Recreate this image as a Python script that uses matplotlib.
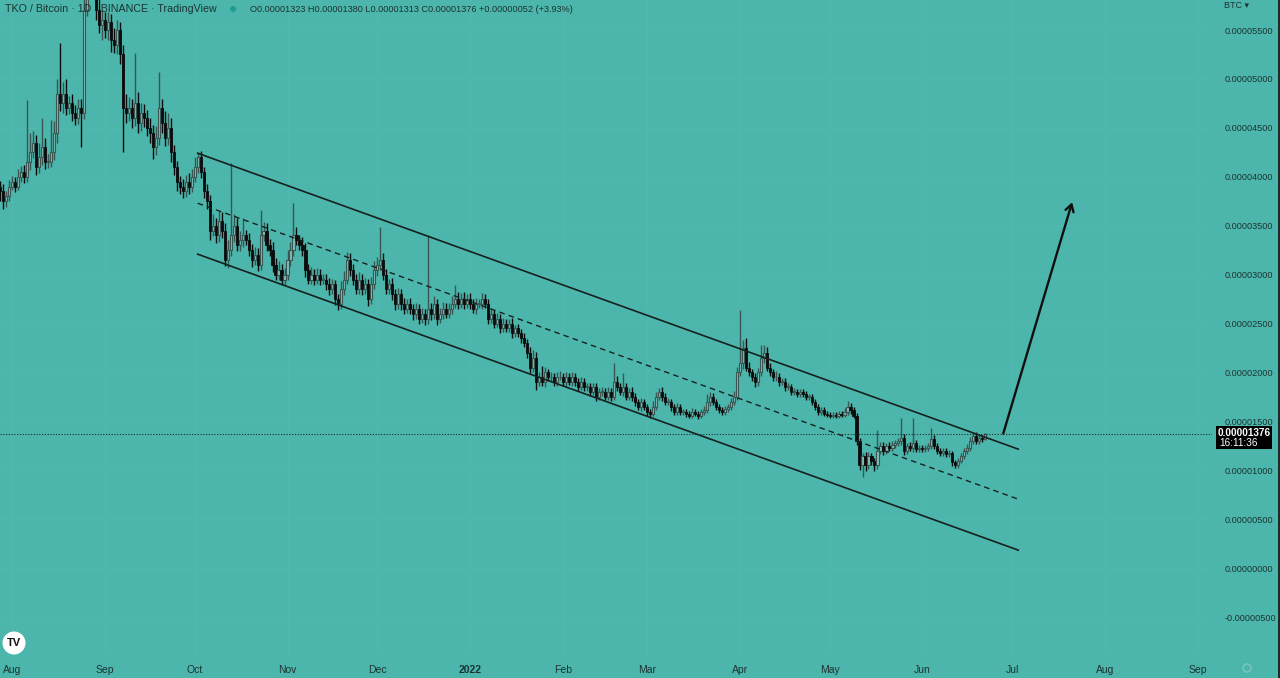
import datetime as dt
import matplotlib
matplotlib.use("Agg")
import matplotlib.pyplot as plt
from matplotlib.patches import Rectangle, Circle, FancyArrowPatch

# ---------------- data (prices in satoshi = 1e-8 BTC) ----------------
start_date = dt.date(2021, 7, 28)
first_open = 3900

closes = [
    3850, 3750, 3800, 3900, 3950, 3900, 4000, 4050, 4000, 4150,
    4250, 4350, 4100, 4200, 4300, 4150, 4150, 4250, 4450, 4850,
    4750, 4850, 4700, 4750, 4650, 4600, 4700, 4650, 5700, 5900,
    6100, 6200, 5700, 5550, 5600, 5500, 5580, 5400, 5350, 5500,
    5250, 4700, 4650, 4700, 4600, 4750, 4550, 4650, 4600, 4500,
    4450, 4300, 4400, 4700, 4550, 4400, 4500, 4250, 4100, 3950,
    3900, 3850, 3950, 3900, 4000, 4100, 4200, 4050, 3850, 3750,
    3450, 3500, 3400, 3550, 3450, 3150, 3250, 3400, 3500, 3300,
    3350, 3400, 3350, 3250, 3150, 3200, 3100, 3400, 3450, 3300,
    3250, 3100, 3000, 3050, 2950, 3000, 3150, 3250, 3400, 3350,
    3300, 3250, 3050, 2950, 3000, 2950, 3000, 2950, 2950, 2900,
    2850, 2900, 2750, 2700, 2850, 2950, 3150, 3050, 2950, 2850,
    2950, 2850, 2900, 2750, 2900, 3050, 3100, 3150, 3000, 2850,
    2900, 2800, 2700, 2800, 2700, 2650, 2700, 2650, 2600, 2650,
    2550, 2600, 2550, 2650, 2600, 2700, 2550, 2600, 2650, 2600,
    2650, 2700, 2750, 2700, 2750, 2700, 2750, 2700, 2650, 2700,
    2700, 2750, 2700, 2550, 2600, 2500, 2550, 2450, 2500, 2450,
    2500, 2400, 2450, 2400, 2350, 2300, 2200, 2050, 2150, 1900,
    1950, 1900, 2000, 1950, 1950, 1900, 1950, 1950, 1900, 1950,
    1900, 1950, 1900, 1850, 1900, 1850, 1850, 1800, 1850, 1750,
    1800, 1800, 1750, 1800, 1750, 1900, 1850, 1800, 1850, 1750,
    1800, 1750, 1700, 1650, 1700, 1650, 1600, 1580, 1650, 1750,
    1800, 1750, 1700, 1700, 1650, 1600, 1650, 1600, 1600, 1580,
    1560, 1600, 1580, 1560, 1600, 1620, 1700, 1750, 1700, 1650,
    1620, 1600, 1630, 1650, 1700, 1750, 2000, 2100, 2250, 2050,
    2000, 1950, 1900, 2000, 2150, 2200, 2050, 2000, 1950, 1950,
    1900, 1900, 1850, 1850, 1800, 1800, 1780, 1800, 1780, 1750,
    1750, 1700, 1650, 1600, 1620, 1580, 1570, 1560, 1570, 1560,
    1580, 1570, 1600, 1650, 1620, 1560, 1300, 1050, 1150, 1050,
    1150, 1100, 1050, 1200, 1250, 1200, 1250, 1230, 1260, 1280,
    1300, 1330, 1200, 1250, 1230, 1280, 1220, 1230, 1220, 1230,
    1250, 1320, 1250, 1200, 1180, 1200, 1170, 1180, 1080, 1050,
    1100, 1150, 1200, 1230, 1300, 1350, 1300, 1330, 1323, 1376,
]

wick_up = [
    60, 80, 50, 70, 60, 50, 80, 60, 70, 630,
    200, 120, 80, 150, 300, 100, 80, 330, 120, 150,
    515, 120, 150, 80, 100, 80, 90, 100, 400, 400,
    200, 200, 300, 120, 100, 80, 100, 80, 120, 100,
    80, 100, 150, 120, 100, 520, 120, 100, 90, 80,
    100, 80, 120, 370, 100, 120, 150, 100, 80, 60,
    60, 80, 70, 90, 80, 100, 50, 60, 50, 80,
    60, 120, 80, 100, 90, 80, 100, 740, 120, 80,
    100, 180, 60, 80, 60, 80, 70, 260, 90, 80,
    60, 80, 70, 90, 60, 70, 100, 80, 330, 90,
    60, 80, 70, 60, 80, 60, 70, 60, 60, 60,
    70, 60, 50, 50, 80, 90, 80, 70, 60, 60,
    80, 60, 70, 60, 80, 90, 80, 335, 70, 60,
    60, 70, 50, 60, 50, 60, 50, 60, 50, 60,
    50, 60, 50, 750, 60, 80, 50, 60, 70, 60,
    60, 80, 140, 70, 60, 70, 50, 60, 50, 60,
    50, 60, 50, 50, 60, 40, 60, 50, 60, 50,
    50, 60, 40, 50, 40, 50, 40, 60, 80, 60,
    50, 120, 60, 40, 50, 40, 50, 60, 40, 50,
    40, 50, 40, 40, 50, 40, 40, 40, 40, 40,
    40, 50, 40, 50, 40, 195, 60, 40, 140, 40,
    40, 50, 40, 30, 40, 30, 30, 30, 60, 50,
    40, 50, 40, 40, 30, 30, 40, 30, 30, 30,
    30, 40, 30, 30, 30, 40, 80, 50, 40, 30,
    30, 30, 30, 30, 40, 60, 60, 540, 80, 100,
    60, 40, 40, 50, 130, 80, 60, 50, 40, 60,
    40, 40, 40, 40, 30, 40, 30, 30, 30, 30,
    30, 30, 30, 30, 30, 30, 30, 30, 30, 30,
    30, 30, 40, 60, 40, 30, 30, 30, 30, 40,
    40, 30, 30, 210, 40, 40, 30, 40, 40, 30,
    30, 200, 40, 30, 40, 250, 30, 30, 30, 30,
    30, 110, 40, 30, 30, 30, 30, 30, 20, 30,
    30, 30, 30, 40, 40, 30, 40, 30, 30, 4,
]

wick_dn = [
    100, 80, 60, 50, 40, 60, 40, 50, 60, 50,
    80, 60, 80, 60, 80, 70, 60, 50, 80, 100,
    80, 100, 70, 60, 80, 70, 60, 350, 60, 60,
    60, 60, 100, 80, 150, 80, 100, 120, 80, 100,
    100, 450, 100, 80, 100, 80, 100, 80, 90, 80,
    100, 120, 80, 80, 100, 90, 80, 100, 80, 100,
    80, 70, 60, 80, 60, 50, 60, 60, 70, 80,
    100, 60, 80, 70, 80, 60, 85, 60, 70, 60,
    60, 70, 50, 60, 70, 50, 60, 50, 60, 60,
    60, 70, 60, 50, 60, 60, 50, 60, 60, 50,
    50, 60, 70, 50, 50, 60, 50, 60, 50, 60,
    60, 50, 60, 60, 50, 60, 50, 60, 60, 50,
    50, 60, 50, 70, 50, 50, 60, 50, 60, 50,
    50, 60, 60, 50, 60, 50, 40, 50, 60, 50,
    50, 40, 60, 50, 60, 50, 70, 40, 50, 40,
    40, 50, 40, 50, 40, 50, 40, 50, 40, 50,
    40, 50, 40, 50, 40, 50, 40, 50, 40, 40,
    40, 50, 40, 40, 50, 40, 50, 60, 50, 80,
    40, 40, 50, 40, 40, 40, 40, 30, 40, 40,
    30, 40, 40, 40, 30, 40, 40, 40, 30, 40,
    30, 40, 30, 30, 40, 30, 40, 30, 40, 30,
    30, 40, 40, 30, 40, 30, 40, 50, 30, 30,
    30, 40, 30, 30, 40, 30, 30, 30, 30, 40,
    30, 30, 30, 40, 30, 30, 30, 40, 30, 30,
    30, 30, 30, 30, 30, 30, 30, 40, 60, 40,
    40, 40, 50, 40, 40, 50, 40, 40, 40, 40,
    40, 30, 40, 30, 30, 30, 30, 30, 30, 30,
    30, 30, 30, 30, 30, 30, 30, 30, 30, 30,
    30, 30, 30, 30, 40, 30, 40, 50, 120, 60,
    40, 50, 60, 40, 30, 40, 30, 30, 30, 30,
    30, 40, 40, 30, 30, 40, 30, 30, 30, 30,
    30, 30, 30, 30, 30, 30, 30, 30, 40, 30,
    30, 30, 30, 30, 30, 30, 30, 30, 30, 10,
]

month_dates = [dt.date(2021, 8, 1), dt.date(2021, 9, 1), dt.date(2021, 10, 1),
               dt.date(2021, 11, 1), dt.date(2021, 12, 1), dt.date(2022, 1, 1),
               dt.date(2022, 2, 1), dt.date(2022, 3, 1), dt.date(2022, 4, 1),
               dt.date(2022, 5, 1), dt.date(2022, 6, 1), dt.date(2022, 7, 1),
               dt.date(2022, 8, 1), dt.date(2022, 9, 1)]
month_labels = ["Aug", "Sep", "Oct", "Nov", "Dec", "2022", "Feb", "Mar",
                "Apr", "May", "Jun", "Jul", "Aug", "Sep"]
ytick_values = [-500, 0, 500, 1000, 1500, 2000, 2500, 3000, 3500,
                4000, 4500, 5000, 5500]

channel_dates = [dt.date(2021, 10, 2), dt.date(2022, 7, 3)]
channel_upper = [4241, 1216]
channel_middle = [3730, 705]
channel_lower = [3209, 184]

arrow_dates = [dt.date(2022, 6, 28), dt.date(2022, 7, 21)]
arrow_values = [1376, 3740]

last_price = 1376
header_title = "TKO / Bitcoin · 1D · BINANCE · TradingView"
header_ohlc = "O0.00001323 H0.00001380 L0.00001313 C0.00001376 +0.00000052 (+3.93%)"
countdown = "16:11:36"

# ---------------- style ----------------
BG = "#4db6ac"
TXT = "#1b3431"
UP_EDGE = "#3a5652"
UP_FACE = "#82bdb6"
DOWN = "#0c0c0c"
LINE = "#15211f"
FONT = ["Liberation Sans Narrow", "Liberation Sans", "DejaVu Sans"]
plt.rcParams["font.family"] = FONT

W, H = 1280, 678
fig = plt.figure(figsize=(W / 100, H / 100), dpi=100)
fig.patch.set_facecolor(BG)
ax = fig.add_axes([0, 23 / H, 1212 / W, 655 / H])
ax.set_facecolor(BG)
for s in ax.spines.values():
    s.set_visible(False)

def dnum(d):
    return (d - start_date).days

n = len(closes)
xs = list(range(n))
opens = [first_open] + closes[:-1]
bw = 0.7

# very faint grid
for md in month_dates:
    ax.axvline(dnum(md), color="#50b8ae", lw=0.8, zorder=0)
for yv in ytick_values:
    ax.axhline(yv, color="#50b8ae", lw=0.8, zorder=0)

for i in xs:
    o, c = opens[i], closes[i]
    top, bot = max(o, c), min(o, c)
    hi, lo = top + wick_up[i], bot - wick_dn[i]
    up = c >= o
    col = UP_EDGE if up else DOWN
    ax.vlines(i, lo, hi, color=col, lw=1.0, zorder=2)
    hgt = max(top - bot, 8)
    if up:
        ax.add_patch(Rectangle((i - bw / 2, bot), bw, hgt, facecolor=UP_FACE,
                               edgecolor=UP_EDGE, lw=0.8, zorder=3))
    else:
        ax.add_patch(Rectangle((i - bw / 2, bot), bw, hgt, facecolor=DOWN,
                               edgecolor=DOWN, lw=0.6, zorder=3))

cx = [dnum(d) for d in channel_dates]
ax.plot(cx, channel_upper, color=LINE, lw=1.2, zorder=4)
ax.plot(cx, channel_lower, color=LINE, lw=1.2, zorder=4)
ax.plot(cx, channel_middle, color=LINE, lw=1.0, ls=(0, (4, 3)), zorder=4)

ax.add_patch(FancyArrowPatch((dnum(arrow_dates[0]), arrow_values[0]),
                             (dnum(arrow_dates[1]), arrow_values[1]),
                             arrowstyle="->,head_length=5,head_width=3",
                             color="#101010", lw=1.7, zorder=5,
                             shrinkA=0, shrinkB=0))

ax.axhline(last_price, color="#1a2b29", lw=0.8, ls=(0, (1, 1.5)), zorder=4)

ax.set_xlim(0, 404.7)
ax.set_ylim(-888, 5807)

ax.set_xticks([dnum(d) for d in month_dates])
ax.set_xticklabels(month_labels)
for lbl, txt in zip(ax.get_xticklabels(), month_labels):
    if txt == "2022":
        lbl.set_fontweight("bold")
ax.tick_params(axis="x", length=0, pad=7, labelsize=7.5, labelcolor=TXT)

ax.yaxis.tick_right()
ax.set_yticks(ytick_values)
ax.set_yticklabels([f"{v * 1e-8:.8f}" for v in ytick_values])
ax.tick_params(axis="y", length=0, pad=9, labelsize=6.6, labelcolor=TXT)

# header
fig.text(5 / W, 1 - 9 / H, header_title, fontsize=7.7, color=TXT,
         va="center", ha="left")
fig.add_artist(Circle((233 / 100, (H - 9) / 100), 0.03,
                      transform=fig.dpi_scale_trans,
                      facecolor="#1f9e8f", edgecolor="none"))
fig.text(250 / W, 1 - 9 / H, header_ohlc, fontsize=6.6, color=TXT,
         va="center", ha="left")
fig.text(1224 / W, 1 - 6 / H, "BTC ▾", fontsize=6.5, color=TXT,
         va="center", ha="left", family=FONT)

# price label
fig.add_artist(Rectangle((1216 / W, 1 - 449 / H), 56 / W, 23 / H,
                         transform=fig.transFigure, facecolor="#000000",
                         edgecolor="none", zorder=10))
fig.text(1244 / W, 1 - 433 / H, "0.00001376", fontsize=7.2, color="white",
         ha="center", va="center", fontweight="bold", zorder=11)
fig.text(1219 / W, 1 - 443 / H, countdown, fontsize=7.2, color="white",
         ha="left", va="center", zorder=11)

# logo and gear
fig.add_artist(Circle((14 / 100, (H - 643) / 100), 0.115,
                      transform=fig.dpi_scale_trans,
                      facecolor="white", edgecolor="none"))
fig.text(14 / W, 1 - 643 / H, "TV", fontsize=8, fontweight="bold",
         color="#111111", ha="center", va="center")
fig.add_artist(Circle((1247 / 100, (H - 668) / 100), 0.04,
                      transform=fig.dpi_scale_trans,
                      facecolor="none", edgecolor="#7cc8c0", lw=1.0))
# right border
fig.add_artist(Rectangle((1278 / W, 0), 2 / W, 1, transform=fig.transFigure,
                         facecolor="#1a2b29", edgecolor="none"))

fig.savefig("out.png", dpi=100, facecolor=BG)
